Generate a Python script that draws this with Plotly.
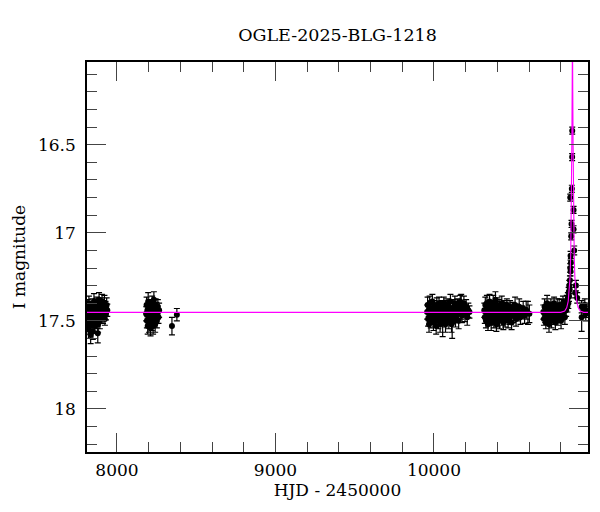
import plotly.graph_objects as go

# ---------------- data ----------------
s1_t = [7814, 7816, 7818, 7819, 7821, 7823, 7825, 7826, 7828, 7831, 7833, 7834, 7837, 7839, 7842,
        7844, 7846, 7848, 7851, 7853, 7855, 7858, 7860, 7862, 7865, 7867, 7870, 7872, 7874, 7877,
        7879, 7881, 7884, 7887, 7889, 7892, 7895, 7897, 7900, 7903, 7906, 7909, 7912, 7915, 7918,
        7921, 7924, 7928, 7931, 7935, 7939]
s1_m = [17.47, 17.42, 17.51, 17.45, 17.55, 17.40, 17.48, 17.53, 17.44, 17.50, 17.46, 17.58, 17.43,
        17.49, 17.52, 17.41, 17.47, 17.56, 17.45, 17.50, 17.39, 17.46, 17.53, 17.44, 17.48, 17.42,
        17.51, 17.46, 17.40, 17.49, 17.57, 17.52, 17.47, 17.38, 17.45, 17.50, 17.43, 17.48, 17.41,
        17.46, 17.39, 17.44, 17.47, 17.42, 17.45, 17.40, 17.49, 17.43, 17.46, 17.41, 17.44]
s1_e = [0.035, 0.040, 0.045, 0.035, 0.050, 0.040, 0.035, 0.045, 0.040, 0.035, 0.040, 0.050, 0.035,
        0.040, 0.045, 0.035, 0.040, 0.045, 0.035, 0.040, 0.045, 0.035, 0.040, 0.035, 0.040, 0.045,
        0.035, 0.040, 0.035, 0.040, 0.055, 0.045, 0.035, 0.040, 0.035, 0.045, 0.040, 0.035, 0.040,
        0.035, 0.040, 0.035, 0.045, 0.035, 0.040, 0.045, 0.035, 0.040, 0.035, 0.040, 0.035]

s2_t = [8184, 8187, 8189, 8192, 8194, 8197, 8199, 8202, 8204, 8207, 8209, 8212, 8215, 8217, 8220,
        8222, 8225, 8228, 8230, 8233, 8236, 8238, 8241, 8244, 8246, 8249, 8252, 8255, 8258, 8262,
        8266]
s2_m = [17.46, 17.41, 17.50, 17.44, 17.53, 17.39, 17.47, 17.52, 17.43, 17.49, 17.45, 17.54, 17.42,
        17.48, 17.51, 17.40, 17.46, 17.53, 17.44, 17.38, 17.49, 17.45, 17.52, 17.41, 17.47, 17.43,
        17.50, 17.45, 17.42, 17.48, 17.44]
s2_e = [0.040, 0.045, 0.040, 0.035, 0.045, 0.050, 0.040, 0.045, 0.035, 0.040, 0.035, 0.045, 0.040,
        0.035, 0.045, 0.040, 0.035, 0.045, 0.040, 0.045, 0.035, 0.040, 0.045, 0.035, 0.040, 0.035,
        0.040, 0.035, 0.040, 0.035, 0.040]

s2b_t = [8347, 8378]
s2b_m = [17.53, 17.465]
s2b_e = [0.05, 0.035]

s3_t = [9957, 9960, 9963, 9967, 9969, 9973, 9976, 9980, 9983, 9986, 9990, 9993, 9997, 10000, 10004,
        10007, 10011, 10014, 10018, 10021, 10025, 10028, 10032, 10035, 10039, 10042, 10046, 10049,
        10053, 10055, 10059, 10062, 10066, 10069, 10073, 10076, 10080, 10083, 10087, 10090, 10094,
        10097, 10101, 10104, 10108, 10111, 10115, 10118, 10122, 10125, 10129, 10132, 10136, 10140,
        10144, 10148, 10152, 10156, 10161, 10166, 10172, 10177, 10183, 10189, 10196, 10203, 10210,
        10217, 10224]
s3_m = [17.45, 17.41, 17.49, 17.44, 17.52, 17.40, 17.47, 17.50, 17.43, 17.48, 17.39, 17.46, 17.51,
        17.44, 17.42, 17.49, 17.45, 17.53, 17.41, 17.47, 17.44, 17.50, 17.40, 17.46, 17.52, 17.43,
        17.48, 17.42, 17.45, 17.51, 17.47, 17.40, 17.49, 17.44, 17.52, 17.42, 17.46, 17.41, 17.48,
        17.45, 17.50, 17.43, 17.47, 17.39, 17.46, 17.52, 17.51, 17.44, 17.48, 17.42, 17.46, 17.40,
        17.49, 17.44, 17.47, 17.41, 17.45, 17.50, 17.43, 17.39, 17.42, 17.47, 17.44, 17.40, 17.46,
        17.42, 17.48, 17.44, 17.45]
s3_e = [0.040, 0.045, 0.040, 0.035, 0.045, 0.040, 0.035, 0.040, 0.045, 0.035, 0.040, 0.035, 0.045,
        0.040, 0.035, 0.040, 0.035, 0.045, 0.040, 0.035, 0.040, 0.045, 0.035, 0.040, 0.045, 0.035,
        0.040, 0.035, 0.040, 0.080, 0.040, 0.035, 0.045, 0.040, 0.045, 0.035, 0.040, 0.035, 0.040,
        0.035, 0.045, 0.040, 0.035, 0.040, 0.035, 0.045, 0.090, 0.040, 0.035, 0.040, 0.035, 0.040,
        0.045, 0.035, 0.040, 0.035, 0.040, 0.045, 0.040, 0.035, 0.070, 0.040, 0.035, 0.040, 0.045,
        0.040, 0.045, 0.040, 0.035]

s4_t = [10318, 10321, 10324, 10328, 10331, 10334, 10338, 10341, 10344, 10348, 10351, 10354, 10358,
        10361, 10364, 10368, 10371, 10374, 10378, 10381, 10384, 10388, 10391, 10394, 10398, 10401,
        10404, 10408, 10411, 10414, 10418, 10421, 10424, 10428, 10431, 10435, 10438, 10442, 10445,
        10449, 10452, 10456, 10460, 10464, 10468, 10472, 10476, 10480, 10485, 10490, 10495, 10500,
        10506, 10512, 10518, 10524, 10531, 10538, 10546, 10554, 10563, 10572, 10582, 10593, 10602]
s4_m = [17.44, 17.48, 17.41, 17.50, 17.45, 17.40, 17.47, 17.52, 17.43, 17.46, 17.39, 17.49, 17.44,
        17.51, 17.42, 17.47, 17.45, 17.40, 17.50, 17.43, 17.48, 17.38, 17.46, 17.52, 17.44, 17.41,
        17.49, 17.45, 17.42, 17.50, 17.47, 17.43, 17.46, 17.40, 17.48, 17.44, 17.51, 17.42, 17.46,
        17.49, 17.43, 17.47, 17.41, 17.45, 17.50, 17.44, 17.48, 17.42, 17.46, 17.51, 17.43, 17.47,
        17.45, 17.41, 17.49, 17.44, 17.46, 17.42, 17.48, 17.45, 17.43, 17.47, 17.44, 17.455, 17.46]
s4_e = [0.040, 0.035, 0.045, 0.040, 0.035, 0.045, 0.040, 0.035, 0.040, 0.045, 0.040, 0.035, 0.040,
        0.045, 0.035, 0.040, 0.035, 0.045, 0.040, 0.035, 0.040, 0.045, 0.035, 0.040, 0.035, 0.040,
        0.045, 0.035, 0.040, 0.045, 0.035, 0.040, 0.035, 0.040, 0.045, 0.035, 0.040, 0.035, 0.040,
        0.045, 0.035, 0.040, 0.035, 0.045, 0.040, 0.035, 0.040, 0.035, 0.045, 0.040, 0.035, 0.040,
        0.035, 0.045, 0.040, 0.035, 0.040, 0.045, 0.040, 0.035, 0.040, 0.045, 0.050, 0.065, 0.050]

s5_t = [10690, 10694, 10698, 10702, 10706, 10710, 10714, 10718, 10722, 10726, 10730, 10734, 10738,
        10742, 10746, 10750, 10754, 10758, 10762, 10766, 10770, 10774, 10778, 10782, 10786, 10790,
        10794, 10798, 10802, 10806, 10810, 10814, 10818, 10822, 10826, 10830, 10834, 10838, 10842,
        10845, 10848, 10850, 10852, 10854, 10856, 10858, 10860, 10860, 10862, 10862, 10864, 10866,
        10868, 10870, 10872, 10872.5, 10881, 10881, 10885, 10891, 10896, 10904, 10932, 10932,
        10942, 10952, 10958, 10963]
s5_m = [17.45, 17.49, 17.42, 17.47, 17.51, 17.44, 17.40, 17.48, 17.46, 17.52, 17.43, 17.47, 17.41,
        17.50, 17.45, 17.43, 17.48, 17.40, 17.46, 17.51, 17.44, 17.47, 17.42, 17.49, 17.45, 17.41,
        17.47, 17.44, 17.50, 17.42, 17.46, 17.40, 17.45, 17.43, 17.48, 17.41, 17.44, 17.39, 17.42,
        17.37, 17.40, 17.34, 17.36, 17.30, 17.32, 17.27, 17.20, 16.80, 17.22, 17.13, 17.17, 17.02,
        16.95, 16.75, 16.57, 16.42, 16.87, 16.98, 17.10, 17.34, 17.30, 17.37, 17.42, 17.48,
        17.44, 17.41, 17.46, 17.44]
s5_e = [0.040, 0.035, 0.045, 0.040, 0.035, 0.040, 0.045, 0.035, 0.040, 0.045, 0.035, 0.040, 0.035,
        0.040, 0.045, 0.035, 0.040, 0.035, 0.045, 0.040, 0.035, 0.040, 0.045, 0.035, 0.040, 0.035,
        0.040, 0.035, 0.045, 0.040, 0.035, 0.040, 0.035, 0.045, 0.040, 0.035, 0.035, 0.035, 0.030,
        0.030, 0.030, 0.030, 0.030, 0.030, 0.025, 0.025, 0.025, 0.020, 0.025, 0.025, 0.025, 0.020,
        0.020, 0.020, 0.020, 0.020, 0.020, 0.020, 0.025, 0.030, 0.030, 0.030, 0.035, 0.080,
        0.035, 0.035, 0.040, 0.040]

model_t = [7780, 10800, 10825, 10838, 10847, 10854, 10859, 10863, 10866, 10868, 10870, 10872,
           10873, 10874, 10875, 10876, 10878, 10880, 10882, 10885, 10889, 10894, 10901, 10910,
           10923, 10945, 11000]
model_m = [17.452, 17.452, 17.445, 17.425, 17.39, 17.33, 17.25, 17.12, 16.95, 16.75, 16.5, 16.2,
           16.0, 15.85, 16.0, 16.2, 16.5, 16.75, 16.95, 17.12, 17.25, 17.33, 17.39, 17.425,
           17.445, 17.452, 17.452]

title_text = "OGLE-2025-BLG-1218"
x_title = "HJD - 2450000"
y_title = "I magnitude"
x_range = [7811, 10972]
y_range = [18.245, 16.03]

# ---------------- figure ----------------
FONT = "DejaVu Serif"
fig = go.Figure()

for t, m, e in [(s1_t, s1_m, s1_e), (s2_t, s2_m, s2_e), (s2b_t, s2b_m, s2b_e),
                (s3_t, s3_m, s3_e), (s4_t, s4_m, s4_e), (s5_t, s5_m, s5_e)]:
    fig.add_trace(go.Scatter(
        x=t, y=m, mode="markers",
        marker=dict(color="black", size=6),
        error_y=dict(type="data", array=e, visible=True, color="black",
                     thickness=1.2, width=3),
        showlegend=False, hoverinfo="skip"))

fig.add_trace(go.Scatter(x=model_t, y=model_m, mode="lines",
                         line=dict(color="#ff00ff", width=1.1),
                         showlegend=False, hoverinfo="skip"))

axis_common = dict(
    showline=True, linecolor="black", linewidth=1.5, mirror="allticks",
    ticks="inside", ticklen=19, tickwidth=1.2, tickcolor="#444",
    showgrid=False, zeroline=False, automargin=False,
    tickfont=dict(family=FONT, size=17, color="black"),
)

fig.update_xaxes(range=x_range, dtick=1000, tick0=0, tickformat="d",
                 ticklabelstandoff=2,
                 minor=dict(ticks="inside", ticklen=10, dtick=200, tick0=0,
                            tickcolor="#444", tickwidth=1.2, showgrid=False),
                 title=dict(text=x_title, font=dict(family=FONT, size=17, color="black"),
                            standoff=3),
                 **axis_common)
fig.update_yaxes(range=y_range, dtick=0.5, tick0=0,
                 ticklabelstandoff=6,
                 minor=dict(ticks="inside", ticklen=10, dtick=0.1, tick0=0,
                            tickcolor="#444", tickwidth=1.2, showgrid=False),
                 title=dict(text=y_title, font=dict(family=FONT, size=17, color="black"),
                            standoff=8),
                 **axis_common)

# the page body adds an 8px offset, so the figure is sized to fit the window
fig.update_layout(
    width=592, height=504,
    margin=dict(l=79, r=12, t=54, b=60),
    paper_bgcolor="white", plot_bgcolor="white",
    title=dict(text=title_text, x=0.5, xanchor="center", xref="paper",
               y=1 - 27 / 504, yanchor="middle",
               font=dict(family=FONT, size=17.5, color="black")),
)

fig.write_html("out.html")
